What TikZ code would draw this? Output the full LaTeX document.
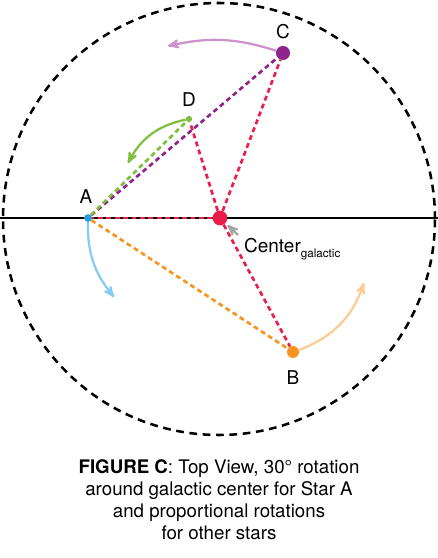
\documentclass[tikz,border=0pt]{standalone}
\usepackage{fontspec}
\setmainfont{TeX Gyre Heros}
\usetikzlibrary{arrows}
\definecolor{galred}{RGB}{234,30,72}
\definecolor{starpurple}{RGB}{142,36,140}
\definecolor{swingpurple}{RGB}{204,146,204}
\definecolor{stargreen}{RGB}{128,190,62}
\definecolor{starblue}{RGB}{38,160,222}
\definecolor{swingblue}{RGB}{132,204,240}
\definecolor{starorange}{RGB}{246,148,34}
\definecolor{swingorange}{RGB}{250,204,150}
\begin{document}
\begin{tikzpicture}[>=stealth',
  star/.style={circle,inner sep=0pt},
  lbl/.style={font=\fontsize{13.5}{16}\selectfont},
  ray/.style={dash pattern=on 3.5pt off 2.5pt,line width=1.9pt},
  swing/.style={->,line width=1.6pt}]
  \useasboundingbox (-5.5,-8.5) rectangle (5.45,5.45);
  % orbit and axis
  \draw[line width=1.8pt,dash pattern=on 5.5pt off 4pt] (-0.025,-0.025) circle (5.4);
  \draw[line width=1.6pt] (-5.5,0) -- (5.45,0);
  % stars
  \node[star,fill=galred,minimum size=10.5pt]    (gc) at (0,0)          {};
  \node[star,fill=starblue,minimum size=5.5pt]   (A)  at (-3.3,0)       {};
  \node[star,fill=starorange,minimum size=8.5pt] (B)  at (1.825,-3.35)  {};
  \node[star,fill=starpurple,minimum size=10pt]  (C)  at (1.575,4.125)  {};
  \node[star,fill=stargreen,minimum size=4.5pt]  (D)  at (-0.775,2.475) {};
  \node[lbl] at (-3.35,0.53)  {A};
  \node[lbl] at (1.825,-4.0)  {B};
  \node[lbl] at (1.575,4.65)  {C};
  \node[lbl] at (-0.775,2.95) {D};
  \node[lbl,anchor=base west] (gcl) at (0.48,-0.875)
    {Center\raisebox{-3.5pt}{\fontsize{8.3}{9}\selectfont galactic}};
  \coordinate (ptr)  at (0.45,-0.425);
  \coordinate (cend) at (-1.3,4.3);
  \coordinate (dend) at (-2.3,1.375);
  \coordinate (aend) at (-2.65,-1.975);
  \coordinate (bend) at (3.6,-1.625);
  % rays
  \draw[ray,starpurple] (A) -- (C);
  \draw[ray,stargreen]  (A) -- (D);
  \draw[ray,starorange] (A) -- (B);
  \path[ray,galred]
    (gc) edge (A)
    (gc) edge (B)
    (gc) edge (C)
    (gc) edge (D);
  % rotations
  \draw[swing,swingpurple] (C) to[bend right=15] (cend);
  \draw[swing,stargreen]   (D) to[bend right=25] (dend);
  \draw[swing,swingblue]   (A) to[bend right=20] (aend);
  \draw[swing,swingorange] (B) to[bend right=25] (bend);
  \draw[->,line width=1.6pt,gray!70,shorten >=2pt] (ptr) -- (gc);
  % caption
  \node[align=center,font=\fontsize{13.3}{15.6}\selectfont] at (-0.025,-7.05)
    {\textbf{FIGURE C}: Top View, 30° rotation\\
     around galactic center for Star A\\
     and proportional rotations\\
     for other stars};
\end{tikzpicture}
\end{document}
